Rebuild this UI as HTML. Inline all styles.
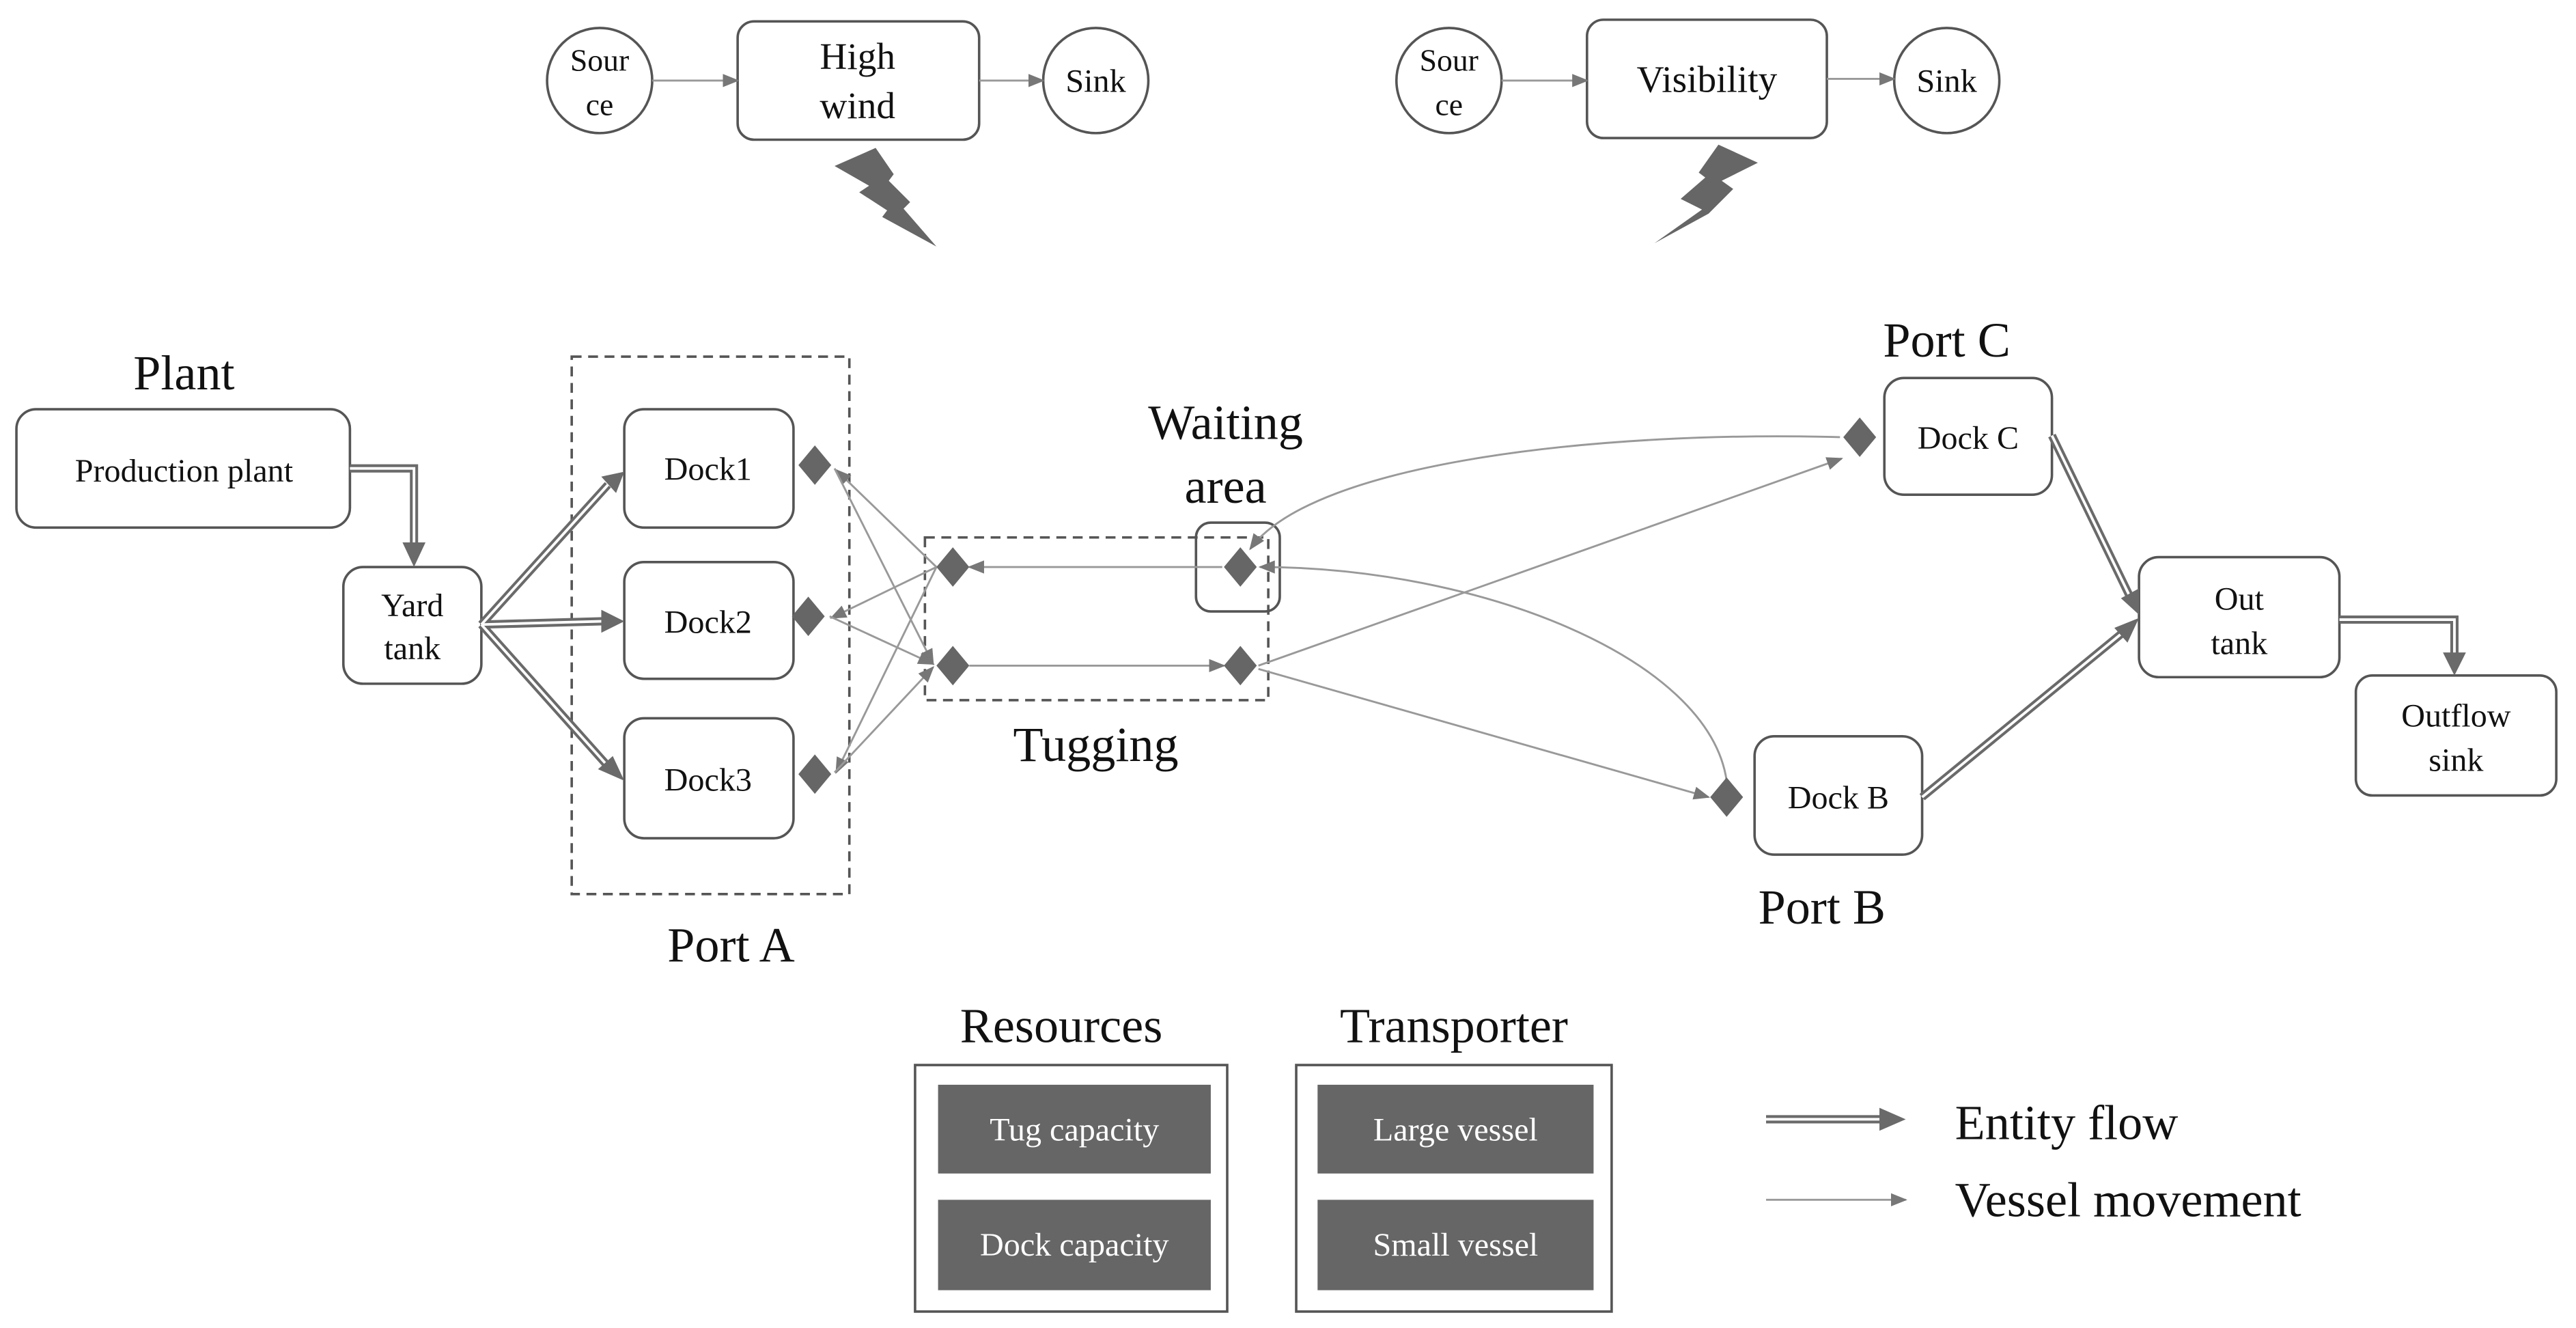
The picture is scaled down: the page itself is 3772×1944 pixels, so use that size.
<!DOCTYPE html>
<html><head><meta charset="utf-8"><style>html,body{margin:0;padding:0;background:#fff}svg{display:block}</style></head>
<body>
<svg width="3772" height="1944" viewBox="0 0 1568 808" preserveAspectRatio="none" xmlns="http://www.w3.org/2000/svg" font-family="Liberation Serif, serif">
<defs>
<marker id="a" markerWidth="10" markerHeight="10" refX="9" refY="5" orient="auto" markerUnits="userSpaceOnUse"><path d="M0,1 L10,5 L0,9 Z" fill="#777"/></marker>
</defs>
<g fill="none" stroke="#555" stroke-width="1.5">
<circle cx="365" cy="49" r="32" fill="#fff"/>
<rect x="449" y="13" width="147" height="72" rx="10" fill="#fff"/>
<circle cx="667" cy="49" r="32" fill="#fff"/>
<circle cx="882" cy="49" r="32" fill="#fff"/>
<rect x="966" y="12" width="146" height="72" rx="10" fill="#fff"/>
<circle cx="1185" cy="49" r="32" fill="#fff"/>
<rect x="10" y="249" width="203" height="72" rx="12"/>
<rect x="209" y="345" width="84" height="71" rx="12"/>
<rect x="380" y="249" width="103" height="72" rx="12"/>
<rect x="380" y="342" width="103" height="71" rx="12"/>
<rect x="380" y="437" width="103" height="73" rx="12"/>
<rect x="728" y="318" width="51" height="54" rx="9"/>
<rect x="1147" y="230" width="102" height="71" rx="12"/>
<rect x="1068" y="448" width="102" height="72" rx="12"/>
<rect x="1302" y="339" width="122" height="73" rx="12"/>
<rect x="1434" y="411" width="122" height="73" rx="10"/>
<rect x="557" y="648" width="190" height="150"/>
<rect x="789" y="648" width="192" height="150"/>
</g>
<g fill="none" stroke="#555" stroke-width="1.5" stroke-dasharray="6,4">
<rect x="348" y="217" width="169" height="327"/>
<rect x="563" y="327" width="209" height="99"/>
</g>
<g fill="#666">
<rect x="571" y="660" width="166" height="54"/><rect x="571" y="730" width="166" height="55"/>
<rect x="802" y="660" width="168" height="54"/><rect x="802" y="730" width="168" height="55"/>
<path d="M533,90 L544,106 L541,110 L554,123 L550,127 L570,150 L537,132 L540,128 L523,117 L529,113 L508,101 Z"/>
<path d="M1046,88 L1070,99 L1048,110 L1055,115 L1040,130 L1007,148 L1036,127.5 L1023,121 L1038,108 L1034,105 Z"/>
</g>
<g fill="none" stroke="#999" stroke-width="1.2" marker-end="url(#a)">
<line x1="397" y1="49" x2="449" y2="49"/><line x1="596" y1="49" x2="635" y2="49"/>
<line x1="914" y1="49" x2="966" y2="49"/><line x1="1112" y1="48" x2="1153" y2="48"/>
<line x1="570" y1="345" x2="509" y2="286"/><line x1="570" y1="345" x2="506" y2="376"/><line x1="570" y1="345" x2="509" y2="470"/>
<line x1="508" y1="285" x2="568" y2="404"/><line x1="505" y1="375" x2="568" y2="404"/><line x1="508" y1="470" x2="568" y2="406"/>
<line x1="744" y1="345" x2="590" y2="345"/><line x1="590" y1="405" x2="745" y2="405"/>
<line x1="766" y1="405" x2="1121" y2="279"/><line x1="766" y1="407" x2="1040" y2="485"/>
<path d="M1120,266 C980,262 800,280 761,334"/>
<path d="M1051,475 C1040,400 900,345 767,345"/>
<line x1="1075" y1="730" x2="1160" y2="730"/>
</g>
<g fill="#666">
<path d="M496,271 L506,283 L496,295 L486,283 Z"/><path d="M492,363 L502,375 L492,387 L482,375 Z"/><path d="M496,459 L506,471 L496,483 L486,471 Z"/>
<path d="M580,333 L590,345 L580,357 L570,345 Z"/><path d="M580,393 L590,405 L580,417 L570,405 Z"/>
<path d="M755,333 L765,345 L755,357 L745,345 Z"/><path d="M755,393 L765,405 L755,417 L745,405 Z"/>
<path d="M1132,254 L1142,266 L1132,278 L1122,266 Z"/><path d="M1051,473 L1061,485 L1051,497 L1041,485 Z"/>
</g>
<g fill="none" stroke-linejoin="miter">
<g stroke="#6a6a6a" stroke-width="5">
<path d="M213,285 L252,285 L252,332"/><path d="M293,380 L370,295"/><path d="M293,380 L367,378"/><path d="M293,380 L369,465"/>
<path d="M1249,265 L1296,362"/><path d="M1170,485 L1292,385"/><path d="M1424,377 L1494,377 L1494,398"/><path d="M1075,681 L1146,681"/>
</g>
<g stroke="#fff" stroke-width="1.6">
<path d="M213,285 L252,285 L252,332"/><path d="M293,380 L370,295"/><path d="M293,380 L367,378"/><path d="M293,380 L369,465"/>
<path d="M1249,265 L1296,362"/><path d="M1170,485 L1292,385"/><path d="M1424,377 L1494,377 L1494,398"/><path d="M1075,681 L1146,681"/>
</g>
</g>
<g fill="#6a6a6a">
<path d="M245,330 L259,330 L252,345 Z"/>
<path d="M366,290 L380,287 L375,300 Z"/>
<path d="M366,371 L380,378 L366,385 Z"/>
<path d="M364,468 L380,475 L373,460 Z"/>
<path d="M1291,364 L1302,374 L1302,358 Z"/>
<path d="M1287,382 L1302,376 L1295,391 Z"/>
<path d="M1487,397 L1501,397 L1494,411 Z"/>
<path d="M1144,674 L1160,681 L1144,688 Z"/>
</g>
<g fill="#111" text-anchor="middle">
<text x="365" y="43" font-size="19">Sour</text><text x="365" y="70" font-size="19">ce</text>
<text x="522" y="42" font-size="23">High</text><text x="522" y="72" font-size="23">wind</text>
<text x="667" y="56" font-size="20">Sink</text>
<text x="882" y="43" font-size="19">Sour</text><text x="882" y="70" font-size="19">ce</text>
<text x="1039" y="56" font-size="23">Visibility</text>
<text x="1185" y="56" font-size="20">Sink</text>
<text x="112" y="237" font-size="30">Plant</text>
<text x="112" y="293" font-size="20">Production plant</text>
<text x="251" y="375" font-size="20">Yard</text><text x="251" y="401" font-size="20">tank</text>
<text x="431" y="292" font-size="20">Dock1</text><text x="431" y="385" font-size="20">Dock2</text><text x="431" y="481" font-size="20">Dock3</text>
<text x="445" y="585" font-size="30">Port A</text>
<text x="746" y="267" font-size="30">Waiting</text><text x="746" y="306" font-size="30">area</text>
<text x="667" y="463" font-size="30">Tugging</text>
<text x="1185" y="217" font-size="30">Port C</text>
<text x="1198" y="273" font-size="20">Dock C</text>
<text x="1119" y="492" font-size="20">Dock B</text>
<text x="1109" y="562" font-size="30">Port B</text>
<text x="1363" y="371" font-size="20">Out</text><text x="1363" y="398" font-size="20">tank</text>
<text x="1495" y="442" font-size="20">Outflow</text><text x="1495" y="469" font-size="20">sink</text>
<text x="646" y="634" font-size="30">Resources</text>
<text x="885" y="634" font-size="30">Transporter</text>
</g>
<g fill="#fff" text-anchor="middle" font-size="20">
<text x="654" y="694">Tug capacity</text><text x="654" y="764">Dock capacity</text>
<text x="886" y="694">Large vessel</text><text x="886" y="764">Small vessel</text>
</g>
<g fill="#111" font-size="30">
<text x="1190" y="693">Entity flow</text>
<text x="1190" y="740">Vessel movement</text>
</g>
</svg>
</body></html>
